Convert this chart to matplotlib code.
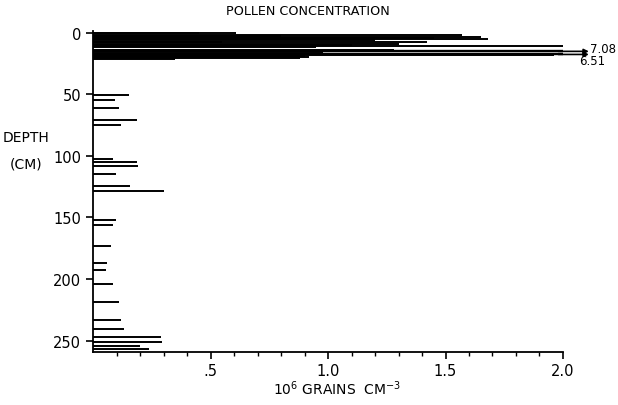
import numpy as np
import matplotlib
matplotlib.use("Agg")
import matplotlib.pyplot as plt

# depth (cm) and pollen concentration (10^6 grains / cm^3)
top_depth = [0.0, 0.6, 2.0, 2.6, 4.0, 4.8, 5.5, 6.3, 7.3, 8.0, 9.4, 10.2, 11.0, 11.6,
             14.2, 15.3, 16.2, 17.8, 18.6, 19.4, 20.2, 21.0, 21.8]
top_conc = [0.61, 0.45, 1.57, 0.80, 1.65, 1.45, 1.68, 1.20, 0.55, 1.42, 1.30, 1.10, 2.02, 0.95,
            1.28, 7.08, 0.98, 6.51, 1.96, 0.90, 0.92, 0.88, 0.35]

low_depth = [50.5, 54.8, 61.0, 70.8, 75.1, 102.7, 104.9, 108.1, 114.9, 124.4, 128.9,
             152.2, 156.3, 173.1, 187.1, 192.8, 204.1, 218.5, 233.1, 240.7, 246.9,
             251.0, 254.5, 256.9]
low_conc = [0.155, 0.094, 0.111, 0.186, 0.118, 0.084, 0.186, 0.19, 0.096, 0.157, 0.30,
            0.096, 0.086, 0.077, 0.061, 0.055, 0.084, 0.109, 0.117, 0.132, 0.289,
            0.295, 0.20, 0.24]

depth = np.array(top_depth + low_depth)
conc = np.array(top_conc + low_conc)

xmax = 2.0
ytick_vals = [0, 50, 100, 150, 200, 250]
xtick_vals = [0.5, 1.0, 1.5, 2.0]
xtick_labels = [".5", "1.0", "1.5", "2.0"]

plt.rcParams['font.family'] = ['DejaVu Sans']

fig = plt.figure(figsize=(6.18, 4.06), dpi=100)
ax = fig.add_axes([0.1505, 0.1315, 0.7605, 0.789])

# bars inside the scale
inside = conc <= xmax + 0.05
ax.hlines(depth[inside], 0, conc[inside], color='black', lw=1.4)

# off-scale bars get an arrow and their value
for d, c in zip(depth[~inside], conc[~inside]):
    ax.hlines(d, 0, 2.0, color='black', lw=1.7)
    ax.annotate('', xy=(2.11, d), xytext=(1.98, d), annotation_clip=False,
                arrowprops=dict(arrowstyle='-|>', color='black', lw=1.2,
                                mutation_scale=7, shrinkA=0, shrinkB=0))
ax.text(2.115, depth[conc == 7.08][0] - 2.6, "7.08", fontsize=8.5, ha='left', va='center',
        clip_on=False)
ax.text(2.07, depth[conc == 6.51][0] + 4.8, "6.51", fontsize=8.5, ha='left', va='center',
        clip_on=False)

ax.set_xlim(0, xmax)
ax.set_ylim(259, -1)
ax.spines['top'].set_visible(False)
ax.spines['right'].set_visible(False)
ax.spines['left'].set_linewidth(1.3)
ax.spines['bottom'].set_linewidth(1.3)

ax.set_yticks(ytick_vals)
ax.set_xticks(xtick_vals)
ax.set_xticklabels(xtick_labels)
ax.set_xticks(np.arange(0.1, 2.0, 0.1), minor=True)
ax.tick_params(axis='both', which='major', direction='out', length=5, width=1.2,
               labelsize=10.5, colors='black')
ax.tick_params(axis='x', which='minor', direction='out', length=3, width=1.0)

fig.text(0.498, 0.972, "POLLEN CONCENTRATION", fontsize=9.2, ha='center', va='center')
fig.text(0.042, 0.66, "DEPTH", fontsize=10, ha='center', va='center')
fig.text(0.042, 0.595, "(CM)", fontsize=10, ha='center', va='center')
fig.text(0.545, 0.042, r"10$^{6}$ GRAINS  CM$^{-3}$", fontsize=10, ha='center', va='center')

fig.savefig("out.png", dpi=100)
